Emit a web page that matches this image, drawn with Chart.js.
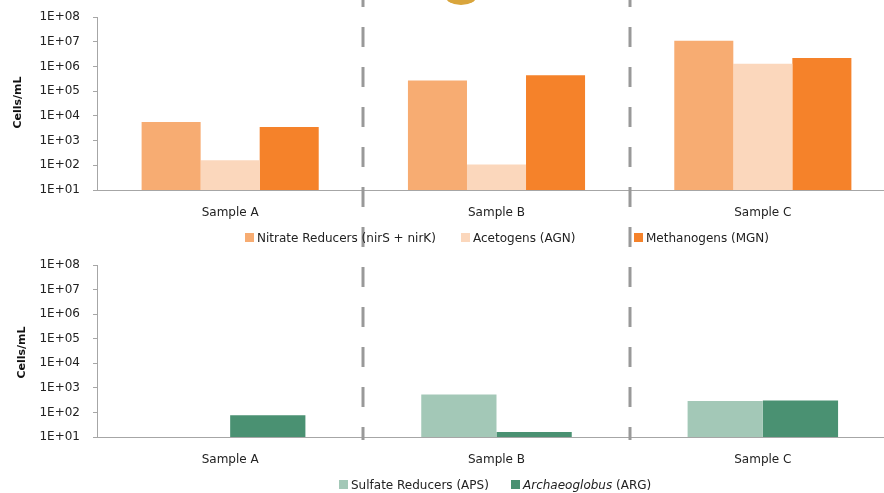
<!doctype html>
<html lang="en">
<head>
<meta charset="utf-8">
<script src="https://cdn.jsdelivr.net/npm/chart.js"></script>
<style>
  body { margin: 0; background: #fff; font-family: 'DejaVu Sans', sans-serif; }
  #wrap { position: relative; width: 884px; height: 493px; overflow: hidden; }
  canvas { position: absolute; left: 0; }
  .legend { position: absolute; font-size: 12px; color: #222; white-space: nowrap; line-height: 14px; }
  .legend span.box { display: inline-block; width: 9px; height: 9px; margin-right: 3px; vertical-align: 0px; }
  .ylab { position: absolute; font-size: 11px; font-weight: bold; color: #111; transform: rotate(-90deg); white-space: nowrap; }
  #logo { position: absolute; left: 445px; top: -14px; width: 32px; height: 19px; border-radius: 50%; background: #d9a53c; }
</style>
</head>
<body>
<div id="wrap">
  <div id="logo"></div>
  <canvas id="topChart" width="896" height="253" style="top:-3px"></canvas>
  <canvas id="botChart" width="896" height="248" style="top:245px"></canvas>

  <div class="ylab" style="left:-9px; top:96px;">Cells/mL</div>
  <div class="ylab" style="left:-5px; top:346px;">Cells/mL</div>

  <div class="legend" style="left:245px; top:231px;">
    <span class="box" style="background:#F7AC72"></span>Nitrate Reducers (nirS + nirK)
  </div>
  <div class="legend" style="left:461px; top:231px;">
    <span class="box" style="background:#FBD7BC"></span>Acetogens (AGN)
  </div>
  <div class="legend" style="left:634px; top:231px;">
    <span class="box" style="background:#F5822A"></span>Methanogens (MGN)
  </div>

  <div class="legend" style="left:339px; top:478px;">
    <span class="box" style="background:#A3C8B7"></span>Sulfate Reducers (APS)
  </div>
  <div class="legend" style="left:511px; top:478px;">
    <span class="box" style="background:#4A9172"></span><i>Archaeoglobus</i> (ARG)
  </div>
</div>

<script>
// categories
const samples = ['Sample A', 'Sample B', 'Sample C'];

// top chart: cells/mL
const nitrateReducers = [5700, 270000, 11000000];
const acetogens = [160, 107, 1300000];
const methanogens = [3600, 440000, 2200000];

// bottom chart: cells/mL
const sulfateReducers = [null, 540, 290];
const archaeoglobus = [77, 16, 310];

// log axis ticks
const decadeTicks = [10, 100, 1000, 10000, 100000, 1000000, 10000000, 100000000];

const axisGray = '#a6a6a6';

function fmtTick(v) {
  const e = Math.round(Math.log10(v));
  return '1E+' + (e < 10 ? '0' + e : e);
}

// dashed dividers between samples
function dividerPlugin(y0, y1) {
  return {
    id: 'dividers',
    afterDraw(chart) {
      const ctx = chart.ctx;
      const xs = chart.scales.x;
      ctx.save();
      ctx.strokeStyle = '#999';
      ctx.lineWidth = 3;
      ctx.setLineDash([20, 20]);
      for (let i = 0; i < samples.length - 1; i++) {
        const x = Math.round((xs.getPixelForValue(i) + xs.getPixelForValue(i + 1)) / 2);
        ctx.beginPath();
        ctx.moveTo(x, y0);
        ctx.lineTo(x, y1);
        ctx.stroke();
      }
      ctx.restore();
    }
  };
}

function makeOptions(catPct, xAxisH) {
  return {
    responsive: false,
    animation: false,
    layout: { padding: 0 },
    plugins: { legend: { display: false }, tooltip: { enabled: false } },
    datasets: { bar: { categoryPercentage: catPct, barPercentage: 1, borderWidth: 0 } },
    scales: {
      x: {
        grid: { display: false },
        border: { color: axisGray, width: 1 },
        ticks: { color: '#222', font: { family: 'DejaVu Sans', size: 12 }, padding: 8 },
        afterFit(s) { s.height = xAxisH; }
      },
      y: {
        type: 'logarithmic',
        min: 10,
        max: 100000000,
        afterBuildTicks(s) { s.ticks = decadeTicks.map(v => ({ value: v })); },
        grid: { drawOnChartArea: false, drawTicks: true, tickLength: 4, color: axisGray },
        border: { color: axisGray, width: 1 },
        ticks: {
          color: '#222',
          font: { family: 'DejaVu Sans', size: 12 },
          padding: 13,
          callback: v => fmtTick(v)
        },
        afterFit(s) { s.width = 97; }
      }
    }
  };
}

new Chart(document.getElementById('topChart'), {
  type: 'bar',
  data: {
    labels: samples,
    datasets: [
      { label: 'Nitrate Reducers (nirS + nirK)', data: nitrateReducers, backgroundColor: '#F7AC72' },
      { label: 'Acetogens (AGN)', data: acetogens, backgroundColor: '#FBD7BC' },
      { label: 'Methanogens (MGN)', data: methanogens, backgroundColor: '#F5822A' }
    ]
  },
  options: makeOptions(0.665, 60),
  plugins: [dividerPlugin(-10, 251)]
});

new Chart(document.getElementById('botChart'), {
  type: 'bar',
  data: {
    labels: samples,
    datasets: [
      { label: 'Sulfate Reducers (APS)', data: sulfateReducers, backgroundColor: '#A3C8B7' },
      { label: 'Archaeoglobus (ARG)', data: archaeoglobus, backgroundColor: '#4A9172' }
    ]
  },
  options: makeOptions(0.565, 56),
  plugins: [dividerPlugin(22, 195)]
});
</script>
</body>
</html>
